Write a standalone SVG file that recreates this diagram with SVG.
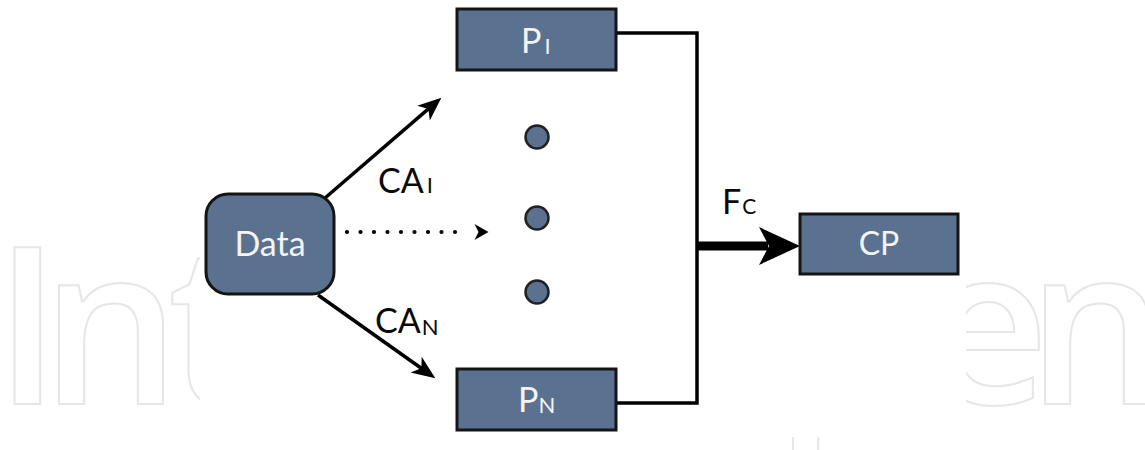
<svg xmlns="http://www.w3.org/2000/svg" width="1145" height="450" viewBox="0 0 1145 450">
<style>
.node{fill:#5b7190;stroke:#141414;stroke-width:3}
.dot{fill:#5b7190;stroke:#222;stroke-width:2.5}
.wl{font-family:Lato,"Open Sans","Liberation Sans",sans-serif;fill:#f4f4f4}
.bl{font-family:Lato,"Open Sans","Liberation Sans",sans-serif;fill:#0a0a0a}
.ln{fill:none;stroke:#000;stroke-width:3.5}
.wm{font-family:"Open Sans","Liberation Sans",sans-serif;font-weight:600;font-size:219px;fill:none;stroke:#e6e6e6;stroke-width:2}
</style>
<defs>
<marker id="ah" markerUnits="userSpaceOnUse" markerWidth="30" markerHeight="30" viewBox="-2 -12 28 24" refX="16" refY="0" orient="auto" overflow="visible">
<path d="M0,-9 L22,0 L0,9 L6,0 Z" fill="#000"/>
</marker>
<marker id="ahs" markerUnits="userSpaceOnUse" markerWidth="30" markerHeight="30" viewBox="-10 -10 30 20" refX="-6" refY="0" orient="auto" overflow="visible">
<path d="M0,-8 L14,0 L0,8 L4,0 Z" fill="#000"/>
</marker>
<clipPath id="wmclip">
<path clip-rule="evenodd" d="M0,0 H1145 V450 H0 Z M200,0 V437 H966 V0 Z"/>
</clipPath>
</defs>
<rect width="1145" height="450" fill="#fff"/>
<g id="watermark" clip-path="url(#wmclip)">
<text class="wm" x="-6 41 168" y="404">Int</text>
<text class="wm" x="775" y="404">p</text>
<text class="wm" x="923 1027" y="404">en</text>
</g>
<g id="connectors">
<polyline class="ln" points="616,33 697,33 697,403 616,403"/>
<line x1="697" y1="246" x2="768" y2="246" stroke="#000" stroke-width="9"/>
<path d="M800,246 L759,227 L769,246 L759,265 Z" fill="#000"/>
<line class="ln" x1="325" y1="198" x2="436.5" y2="101.9" stroke-width="3" marker-end="url(#ah)"/>
<line class="ln" x1="318" y1="295" x2="430.1" y2="374.5" stroke-width="3" marker-end="url(#ah)"/>
<path d="M347,232 L468.5,232" fill="none" stroke="#000" stroke-width="4.2" stroke-linecap="round" stroke-dasharray="0 13.5" marker-end="url(#ahs)"/>
<text class="bl" x="378" y="193" font-size="34">CA<tspan font-size="22" dx="3" dy="0">I</tspan></text>
<text class="bl" x="375" y="333" font-size="34">CA<tspan font-size="22" dx="1" dy="2">N</tspan></text>
<text class="bl" x="722" y="214" font-size="34">F<tspan font-size="21" dx="1">C</tspan></text>
</g>
<g id="node-data">
<rect class="node" x="206" y="194" width="128" height="100" rx="22"/>
<text class="wl" x="270" y="256" font-size="34" text-anchor="middle">Data</text>
</g>
<g id="node-p1">
<rect class="node" x="457" y="9" width="159" height="61"/>
<text class="wl" x="521" y="53" font-size="34">P<tspan font-size="22" dx="3" dy="1">I</tspan></text>
</g>
<g id="node-pn">
<rect class="node" x="457" y="369" width="159" height="61"/>
<text class="wl" x="518" y="412" font-size="34">P<tspan font-size="22" dx="0" dy="1">N</tspan></text>
</g>
<g id="node-cp">
<rect class="node" x="800" y="214" width="158" height="60"/>
<text class="wl" x="879" y="255" font-size="32" text-anchor="middle">CP</text>
</g>
<g id="dots">
<circle class="dot" cx="537" cy="137" r="11.5"/>
<circle class="dot" cx="537" cy="218" r="11.5"/>
<circle class="dot" cx="537" cy="292" r="11.5"/>
</g>
</svg>
